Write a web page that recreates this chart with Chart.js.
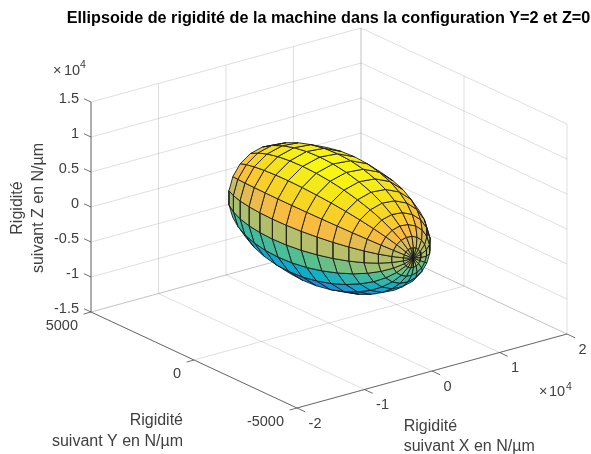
<!DOCTYPE html>
<html><head><meta charset="utf-8">
<style>html,body{margin:0;padding:0;background:#fff}canvas{display:block}</style>
<script src="https://cdn.jsdelivr.net/npm/chart.js@4/dist/chart.umd.min.js"></script>
</head><body><canvas id="myChart" width="591" height="454"></canvas>
<script>
var chartTitle = 'Ellipsoide de rigidité de la machine dans la configuration Y=2 et Z=0';
var xTicks = [-20000, -10000, 0, 10000, 20000];
var yTicks = [5000, 0, -5000];
var zTicks = [-15000, -10000, -5000, 0, 5000, 10000, 15000];
var xTickLabels = ['-2', '-1', '0', '1', '2'];
var yTickLabels = ['5000', '0', '-5000'];
var zTickLabels = ['-1.5', '-1', '-0.5', '0', '0.5', '1', '1.5'];

// surface, values in tens of N/um : one row per parallel, one column per meridian
var surfX = [
  [169,369,543,673,746,756,701,587,425,231,23,-177,-351,-481,-554,-564,-509,-395,-233,-39],
  [161,390,588,737,821,832,769,639,453,231,-7,-236,-434,-583,-667,-678,-615,-485,-299,-77],
  [148,401,619,783,876,888,819,675,470,226,-36,-289,-507,-671,-764,-776,-707,-563,-358,-114],
  [132,402,635,810,909,922,848,694,476,215,-64,-334,-567,-742,-841,-854,-780,-626,-408,-147],
  [112,392,634,816,919,932,855,696,469,198,-92,-372,-614,-796,-899,-912,-835,-676,-449,-178],
  [88,372,617,801,905,919,841,679,450,175,-118,-402,-647,-831,-935,-949,-871,-709,-480,-205],
  [62,342,584,766,869,882,805,646,419,148,-142,-422,-664,-846,-949,-962,-885,-726,-499,-228],
  [34,304,537,712,811,824,750,596,378,117,-162,-432,-665,-840,-939,-952,-878,-724,-506,-245],
  [6,259,477,641,734,746,677,533,328,84,-178,-431,-649,-813,-906,-918,-849,-705,-500,-256],
  [-24,206,404,553,637,648,585,455,269,47,-191,-420,-618,-767,-851,-862,-799,-669,-483,-261],
  [-53,147,321,451,524,534,479,365,203,9,-199,-399,-573,-703,-776,-786,-731,-617,-455,-260],
  [-81,85,230,338,399,407,361,266,131,-30,-203,-369,-514,-622,-683,-691,-645,-550,-415,-254],
  [-108,21,132,215,263,269,234,160,56,-69,-202,-331,-442,-525,-573,-579,-544,-470,-366,-241],
  [-132,-45,31,88,120,125,100,51,-20,-105,-196,-284,-359,-416,-448,-452,-428,-379,-308,-223],
  [-154,-110,-71,-42,-26,-24,-36,-61,-97,-140,-186,-230,-269,-298,-314,-316,-304,-279,-243,-200]
];
var surfY = [
  [317,324,332,338,344,347,348,346,343,337,330,323,316,309,304,301,300,301,305,310],
  [261,269,278,285,291,295,296,294,290,284,276,268,259,252,246,242,241,243,247,253],
  [198,208,217,225,232,236,237,235,231,224,215,206,197,188,182,178,177,178,183,190],
  [131,141,151,160,166,171,172,170,165,158,149,139,129,120,113,109,108,110,114,122],
  [60,70,81,90,97,101,103,101,96,88,79,68,58,49,42,37,36,38,43,51],
  [-12,-2,8,18,25,29,31,29,24,16,6,-4,-14,-24,-31,-35,-37,-35,-30,-22],
  [-85,-74,-64,-55,-48,-43,-42,-44,-49,-56,-66,-76,-87,-96,-103,-108,-109,-107,-102,-94],
  [-155,-145,-135,-126,-119,-115,-114,-116,-120,-128,-137,-147,-157,-166,-172,-177,-178,-176,-171,-164],
  [-221,-212,-203,-194,-188,-184,-183,-184,-189,-196,-204,-214,-223,-231,-238,-242,-243,-241,-236,-230],
  [-282,-274,-265,-258,-252,-248,-247,-249,-253,-259,-267,-276,-284,-291,-297,-301,-302,-300,-296,-290],
  [-336,-329,-322,-315,-310,-307,-306,-307,-311,-316,-323,-331,-338,-344,-350,-353,-354,-352,-349,-343],
  [-382,-376,-370,-365,-360,-358,-357,-358,-361,-366,-371,-377,-384,-389,-393,-396,-397,-396,-392,-388],
  [-419,-414,-409,-405,-402,-400,-399,-400,-403,-406,-410,-415,-420,-424,-427,-429,-430,-429,-427,-423],
  [-445,-442,-439,-436,-434,-432,-432,-433,-434,-437,-440,-443,-446,-449,-451,-452,-453,-452,-451,-448],
  [-461,-459,-458,-456,-455,-454,-454,-454,-455,-456,-458,-459,-461,-463,-464,-464,-465,-464,-463,-462]
];
var surfZ = [
  [-708,-677,-587,-447,-271,-76,119,295,435,525,556,525,435,295,119,-76,-271,-447,-587,-677],
  [-786,-750,-648,-488,-286,-63,160,362,522,625,660,624,522,362,160,-63,-286,-488,-648,-751],
  [-845,-806,-693,-517,-295,-49,197,419,595,708,747,708,595,419,197,-49,-295,-517,-693,-806],
  [-883,-841,-720,-533,-295,-33,230,466,654,775,817,775,654,467,229,-33,-296,-532,-720,-842],
  [-900,-856,-731,-536,-289,-17,256,502,697,823,866,822,697,502,255,-17,-290,-536,-731,-857],
  [-894,-850,-723,-525,-276,0,276,525,723,850,894,850,723,525,276,0,-276,-525,-723,-850],
  [-866,-822,-697,-502,-255,17,290,536,731,857,900,856,731,536,289,17,-256,-502,-697,-823],
  [-817,-775,-654,-467,-229,33,296,532,720,842,883,841,720,533,295,33,-230,-466,-654,-775],
  [-747,-708,-595,-419,-197,49,295,517,693,806,845,806,693,517,295,49,-197,-419,-595,-708],
  [-660,-624,-522,-362,-160,63,286,488,648,751,786,750,648,488,286,63,-160,-362,-522,-625],
  [-556,-525,-435,-295,-119,76,271,447,587,677,708,677,587,447,271,76,-119,-295,-435,-525],
  [-438,-413,-338,-222,-75,87,249,396,512,587,612,587,512,396,249,87,-75,-222,-338,-413],
  [-310,-290,-232,-142,-29,96,221,334,424,482,502,482,424,334,221,96,-29,-142,-232,-290],
  [-173,-160,-120,-59,18,103,188,265,326,366,379,366,326,265,188,103,18,-59,-120,-160],
  [-33,-26,-6,25,64,107,150,189,220,240,247,240,220,189,150,107,64,25,-6,-26]
];
var polePoint = [-172, -465, 108];

var cmapLevels = [-9000, -8000, -5600, -3400, -900, 300, 1800, 3200, 4300, 6500, 7700, 9000];
var cmapColors = ['#3e26a8', '#2a60e8', '#1a90dc', '#0fb0c8', '#55c090', '#a5c070', '#b8bf6b', '#e0bc55', '#fdbc3d', '#f6d920', '#f5e81a', '#f8fa0f'];

// orthographic view of the box, in page units
function proj(x, y, z) {
  return { x: 329 + x * 0.00675 - y * 0.0206, y: 218 - x * 0.00185 - y * 0.0096 - z * 0.007 };
}

function hex(c) { return [1, 3, 5].map(function (i) { return parseInt(c.substr(i, 2), 16); }); }

function zColor(z) {
  var i = 0;
  while (i < cmapLevels.length - 2 && z > cmapLevels[i + 1]) i++;
  var t = Math.max(0, Math.min(1, (z - cmapLevels[i]) / (cmapLevels[i + 1] - cmapLevels[i])));
  var a = hex(cmapColors[i]), b = hex(cmapColors[i + 1]);
  return 'rgb(' + [0, 1, 2].map(function (k) { return Math.round(a[k] + (b[k] - a[k]) * t); }).join(',') + ')';
}

function vertex(i, j) {
  if (i >= surfX.length) return [polePoint[0] * 10, polePoint[1] * 10, polePoint[2] * 10];
  return [surfX[i][j % 20] * 10, surfY[i][j % 20] * 10, surfZ[i][j % 20] * 10];
}

var datasets = [];
function seg(a, b, color, width) {
  datasets.push({ data: [proj(a[0], a[1], a[2]), proj(b[0], b[1], b[2])], borderColor: color, borderWidth: width, pointRadius: 0, showLine: true, clip: false });
}

// surface cells, only those facing the viewer
for (var i = 0; i < surfX.length; i++) {
  for (var j = 0; j < 20; j++) {
    var q = [vertex(i, j), vertex(i, j + 1), vertex(i + 1, j + 1), vertex(i + 1, j)];
    var pts = q.map(function (v) { return proj(v[0], v[1], v[2]); });
    var area = 0;
    for (var k = 0; k < 4; k++) {
      var n = pts[(k + 1) % 4];
      area += pts[k].x * n.y - n.x * pts[k].y;
    }
    if (area >= 0) continue;
    pts.push(pts[0]);
    datasets.push({
      data: pts, showLine: true, fill: 'shape', tension: 0, pointRadius: 0, clip: false,
      backgroundColor: zColor((q[0][2] + q[1][2] + q[2][2] + q[3][2]) / 4),
      borderColor: '#1a1a1a', borderWidth: 0.9
    });
  }
}

// axes and ticks
var axisColor = '#4d4d4d';
seg([-20000, 5000, -15000], [-20000, 5000, 15000], axisColor, 0.8);
seg([-20000, 5000, -15000], [-20000, -5000, -15000], axisColor, 0.8);
seg([-20000, -5000, -15000], [20000, -5000, -15000], axisColor, 0.8);
zTicks.forEach(function (z) { seg([-20000, 5000, z], [-20000, 5340, z], axisColor, 0.8); });
yTicks.forEach(function (y) { seg([-20000, y, -15000], [-21100, y, -15000], axisColor, 0.8); });
xTicks.forEach(function (x) { seg([x, -5000, -15000], [x, -5400, -15000], axisColor, 0.8); });

// grid on the two walls and the floor
var gridColor = 'rgba(38,38,38,0.15)';
xTicks.forEach(function (x) {
  seg([x, 5000, -15000], [x, 5000, 15000], gridColor, 1);
  seg([x, 5000, -15000], [x, -5000, -15000], gridColor, 1);
});
yTicks.forEach(function (y) {
  seg([20000, y, -15000], [20000, y, 15000], gridColor, 1);
  seg([-20000, y, -15000], [20000, y, -15000], gridColor, 1);
});
zTicks.forEach(function (z) {
  seg([-20000, 5000, z], [20000, 5000, z], gridColor, 1);
  seg([20000, 5000, z], [20000, -5000, z], gridColor, 1);
});

var textPlugin = {
  id: 'axisText',
  afterDraw: function (chart) {
    var ctx = chart.ctx;
    ctx.save();
    ctx.fillStyle = '#404040';
    ctx.textBaseline = 'middle';
    var tickFont = '14.5px "Liberation Sans"', labelFont = '16px "Liberation Sans"', supFont = '10.5px "Liberation Sans"';
    function put(s, x, y, font, align) {
      ctx.font = font;
      ctx.textAlign = align;
      ctx.fillText(s, x, y);
    }
    zTicks.forEach(function (z, i) {
      var p = proj(-20000, 5000, z);
      put(zTickLabels[i], p.x - 12, p.y - 3, tickFont, 'right');
    });
    yTicks.forEach(function (y, i) {
      var p = proj(-20000, y, -15000);
      put(yTickLabels[i], p.x - 13, p.y + 13.5, tickFont, 'right');
    });
    xTicks.forEach(function (x, i) {
      var p = proj(x, -5000, -15000);
      put(xTickLabels[i], p.x + (x < 0 ? 18 : 15.5), p.y + 15.7, tickFont, 'center');
    });
    // multipliers
    put('×', 53, 71, tickFont, 'left');
    put('10', 64, 71, tickFont, 'left');
    put('4', 80, 65, supFont, 'left');
    put('×', 539, 392, tickFont, 'left');
    put('10', 549, 392, tickFont, 'left');
    put('4', 566, 387, supFont, 'left');
    // axis labels
    put('Rigidité', 183, 421, labelFont, 'right');
    put('suivant Y en N/µm', 183, 441.7, labelFont, 'right');
    put('Rigidité', 403.7, 426.7, labelFont, 'left');
    put('suivant X en N/µm', 403.7, 447, labelFont, 'left');
    ctx.translate(18, 208);
    ctx.rotate(-Math.PI / 2);
    put('Rigidité', 0, 0, labelFont, 'center');
    put('suivant Z en N/µm', 0, 21, labelFont, 'center');
    ctx.restore();
  }
};

var titleSize = 16.2;
var titleTop = 9.3;
new Chart(document.getElementById('myChart'), {
  type: 'scatter',
  data: { datasets: datasets },
  plugins: [textPlugin],
  options: {
    responsive: false,
    animation: false,
    events: [],
    layout: { padding: { left: 66, right: 0, top: 0, bottom: 0 } },
    plugins: {
      legend: { display: false },
      tooltip: { enabled: false },
      filler: { drawTime: 'beforeDatasetDraw' },
      title: {
        display: true, text: chartTitle, fullSize: false, color: '#000',
        font: { family: '"Liberation Sans"', size: titleSize, weight: 'bold', lineHeight: 1.2 },
        padding: { top: titleTop, bottom: 0 }
      }
    },
    scales: {
      x: { display: false, min: 66, max: 591 },
      y: { display: false, min: titleSize * 1.2 + titleTop, max: 454, reverse: true }
    }
  }
});
</script></body></html>
